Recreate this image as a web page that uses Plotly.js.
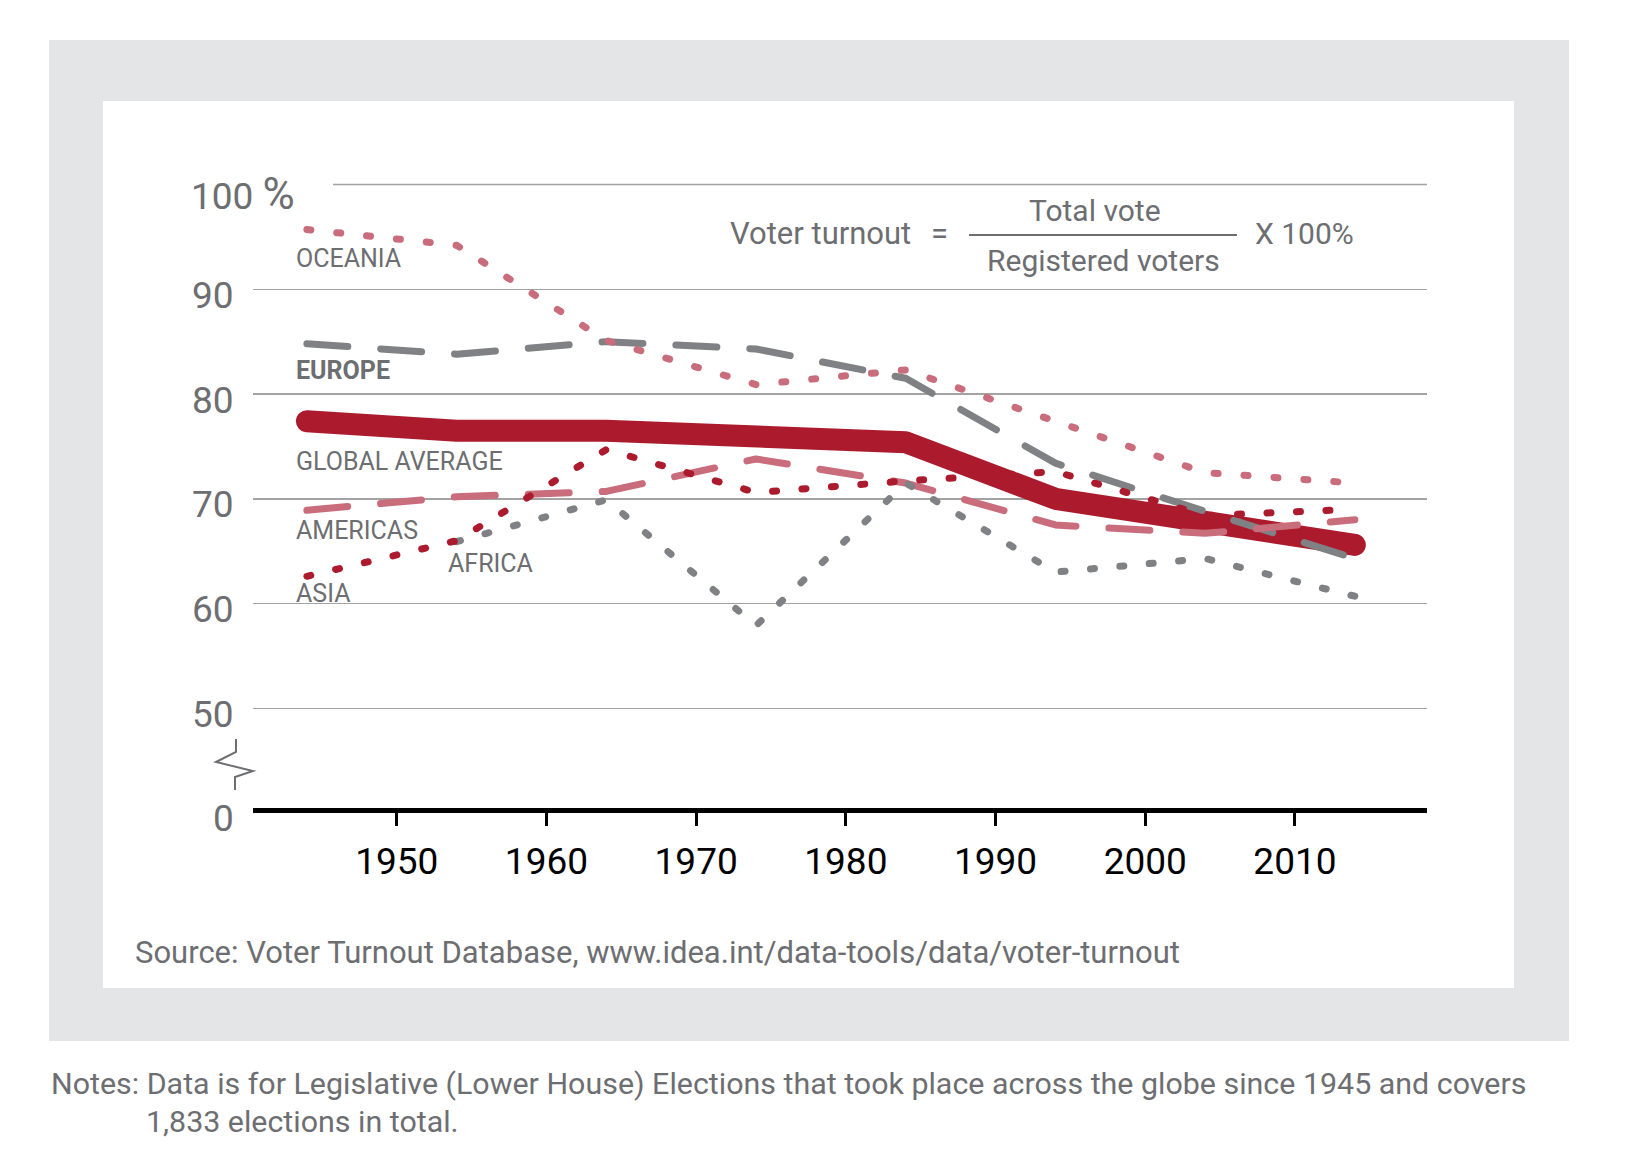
<!DOCTYPE html>
<html>
<head>
<meta charset="utf-8">
<script src="https://cdn.plot.ly/plotly-3.0.1.min.js"></script>
<style>
html,body{margin:0;padding:0;background:#fff;}
#chart{width:1631px;height:1171px;}
</style>
</head>
<body>
<div id="chart"></div>
<script>
// ---- data ----
const years = [1944, 1954, 1964, 1974, 1984, 1994, 2004, 2014];
const globalAverage = [77.4, 76.5, 76.5, 76.1, 75.4, 70.0, 67.9, 65.6];
const europe   = [84.8, 83.8, 85.0, 84.3, 81.5, 73.4, 68.8, 64.3];
const americas = [68.9, 70.2, 70.7, 73.8, 71.5, 67.5, 66.7, 68.0];
const oceania  = [95.7, 94.2, 85.1, 80.9, 82.3, 77.4, 72.5, 71.5];
const africa   = [null, 65.9, 69.9, 57.9, 71.5, 63.0, 64.3, 60.7];
const asia     = [62.6, 66.0, 74.7, 70.6, 71.7, 72.6, 68.4, 69.0];

const xTickVals = [1950, 1960, 1970, 1980, 1990, 2000, 2010];
const xTickText = ['1950', '1960', '1970', '1980', '1990', '2000', '2010'];
const yGridVals = [50, 60, 70, 80, 90];
const yTickVals = [50, 60, 70, 80, 90];
const yTickText = ['50', '60', '70', '80', '90'];
const yBaseText = '0';
const yTopVal = 100;
const yTopText = '100 <span style="font-size:44px">%</span>';

const seriesLabels = ['OCEANIA', 'EUROPE', 'GLOBAL AVERAGE', 'AMERICAS', 'AFRICA', 'ASIA'];

// ---- layout geometry ----
const W = 1631, H = 1171;
const plotL = 253, plotR = 1427, plotT = 174, plotB = 808;
const xp = px => (px - plotL) / (plotR - plotL);
const yp = py => (plotB - py) / (plotB - plotT);

const RED = '#ab1b2d', PINK = '#c96c7b', GREY = '#808184', TXT = '#6d6e71';
const FONT = 'Roboto, Arial, sans-serif';

const traces = [
  {x: years, y: globalAverage, mode: 'lines', line: {color: RED, width: 22}},
  {x: years, y: europe, mode: 'lines', line: {color: GREY, width: 7, dash: '41px,33px'}},
  {x: years, y: americas, mode: 'lines', line: {color: PINK, width: 7, dash: '41px,33px'}},
  {x: years, y: oceania, mode: 'lines', line: {color: PINK, width: 7, dash: '4px,26px'}},
  {x: years, y: africa, mode: 'lines', line: {color: GREY, width: 7, dash: '4px,25.5px'}},
  {x: years, y: asia, mode: 'lines', line: {color: RED, width: 7, dash: '4px,25.5px'}}
].map(t => Object.assign(t, {hoverinfo: 'skip', showlegend: false, connectgaps: false}));

function txt(text, px, py, size, opts) {
  return Object.assign({
    text: text, xref: 'paper', yref: 'paper', x: xp(px), y: yp(py),
    xanchor: 'left', yanchor: 'middle', showarrow: false,
    font: {family: FONT, size: size, color: TXT}
  }, opts || {});
}

const annotations = [];
// y tick labels
yTickVals.forEach((v, i) => {
  annotations.push({
    text: yTickText[i], xref: 'paper', yref: 'y', x: xp(236), y: v,
    xanchor: 'right', yanchor: 'middle', yshift: -6, showarrow: false,
    font: {family: FONT, size: 37, color: TXT}
  });
});
annotations.push(txt(yBaseText, 236, 819, 37, {xanchor: 'right'}));
annotations.push({
  text: yTopText, xref: 'paper', yref: 'y', x: xp(189), y: yTopVal,
  xanchor: 'left', yanchor: 'middle', yshift: -10, showarrow: false,
  font: {family: FONT, size: 37, color: TXT}
});
// series labels
annotations.push(txt(seriesLabels[0], 294, 258, 25));
annotations.push(txt('<b>' + seriesLabels[1] + '</b>', 294, 370, 25));
annotations.push(txt(seriesLabels[2], 294, 461, 25));
annotations.push(txt(seriesLabels[3], 294, 530, 25));
annotations.push(txt(seriesLabels[4], 446, 563, 25));
annotations.push(txt(seriesLabels[5], 294, 593, 25));
// formula
annotations.push(txt('Voter turnout', 728, 233, 31));
annotations.push(txt('=', 929, 233, 31));
annotations.push(txt('Total vote', 1095, 211, 30, {xanchor: 'center'}));
annotations.push(txt('Registered voters', 1103, 260, 30, {xanchor: 'center'}));
annotations.push(txt('X 100%', 1253, 233, 30));
// source + notes
annotations.push(txt('Source: Voter Turnout Database, www.idea.int/data-tools/data/voter-turnout', 133, 952, 31));
annotations.push(txt('Notes: Data is for Legislative (Lower House) Elections that took place across the globe since 1945 and covers', 49, 1083, 30.4));
annotations.push(txt('1,833 elections in total.', 144, 1121, 30.4));

function pathPx(points) {
  return points.map((p, i) => (i ? 'L' : 'M') + xp(p[0]).toFixed(5) + ',' + yp(p[1]).toFixed(5)).join(' ');
}

const shapes = [
  {type: 'rect', layer: 'below', xref: 'paper', yref: 'paper', x0: xp(49), x1: xp(1569), y0: yp(40), y1: yp(1041),
   fillcolor: '#e4e5e6', line: {width: 0}},
  {type: 'rect', layer: 'below', xref: 'paper', yref: 'paper', x0: xp(103), x1: xp(1514), y0: yp(101), y1: yp(988),
   fillcolor: '#ffffff', line: {width: 0}},
  // top gridline (starts right of the "100 %" label)
  {type: 'line', layer: 'below', xref: 'paper', yref: 'y', x0: xp(333), x1: 1, y0: yTopVal, y1: yTopVal,
   line: {color: '#a3a3a3', width: 1.5}},
  // fraction bar
  {type: 'line', xref: 'paper', yref: 'paper', x0: xp(969), x1: xp(1237), y0: yp(235), y1: yp(235),
   line: {color: TXT, width: 2}},
  // axis break symbol
  {type: 'path', xref: 'paper', yref: 'paper',
   path: pathPx([[236, 739], [236, 752], [216, 762], [253, 771], [235, 777], [235, 790]]),
   line: {color: TXT, width: 2}}
];

const layout = {
  width: W, height: H,
  margin: {l: plotL, r: W - plotR, t: plotT, b: H - plotB, pad: 0},
  paper_bgcolor: '#ffffff', plot_bgcolor: 'rgba(0,0,0,0)',
  font: {family: FONT, color: TXT},
  showlegend: false,
  xaxis: {
    range: [1940.40, 2018.82], showgrid: false, zeroline: false,
    showline: true, linecolor: '#000', linewidth: 5,
    ticks: 'outside', ticklen: 13, tickwidth: 3, tickcolor: '#000',
    tickvals: xTickVals, ticktext: xTickText, ticklabelstandoff: 4,
    tickfont: {family: FONT, size: 37, color: '#000'}, fixedrange: true
  },
  yaxis: {
    range: [40.486, 101], tickvals: yGridVals, showticklabels: false, ticks: '',
    showgrid: true, gridcolor: '#a3a3a3', gridwidth: 1.5, zeroline: false, showline: false, fixedrange: true
  },
  annotations: annotations,
  shapes: shapes
};

Plotly.newPlot('chart', traces, layout, {displayModeBar: false, staticPlot: true}).then(() => {
  document.querySelectorAll('.scatterlayer .trace path.js-line').forEach(p => {
    p.style.strokeLinecap = 'round';
    p.style.strokeLinejoin = 'round';
  });
});
</script>
</body>
</html>
